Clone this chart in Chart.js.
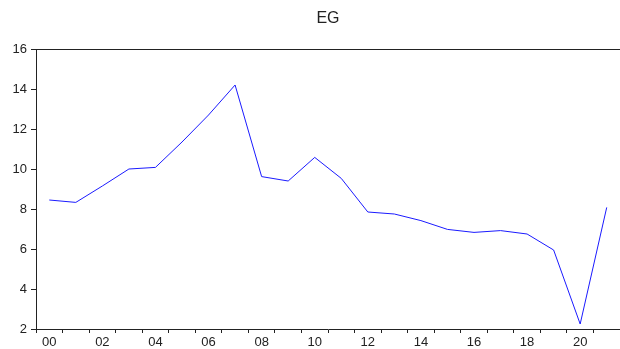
<!DOCTYPE html>
<html>
<head>
<meta charset="utf-8">
<script src="https://cdn.jsdelivr.net/npm/chart.js@4.4.0/dist/chart.umd.min.js"></script>
<style>
  html, body { margin: 0; padding: 0; background: #fff; }
  #wrap { width: 620px; height: 349px; }
</style>
</head>
<body>
<div id="wrap"><canvas id="myChart" width="620" height="349"></canvas></div>
<script>
const years = ['00','01','02','03','04','05','06','07','08','09','10',
               '11','12','13','14','15','16','17','18','19','20','21'];
const egValues = [8.45, 8.33, 9.15, 10.0, 10.08, 11.35, 12.7, 14.2, 9.62, 9.4, 10.58,
                  9.53, 7.85, 7.75, 7.42, 6.98, 6.83, 6.92, 6.75, 5.95, 2.25, 8.08];
const yTicks = [2, 4, 6, 8, 10, 12, 14, 16];

// top line of the plot box
const frame = {
    id: 'frame',
    afterDraw(chart) {
        const a = chart.chartArea;
        const ctx = chart.ctx;
        ctx.save();
        ctx.strokeStyle = '#222';
        ctx.lineWidth = 1;
        ctx.beginPath();
        ctx.moveTo(a.left, Math.round(a.top) + 0.5);
        ctx.lineTo(a.right, Math.round(a.top) + 0.5);
        ctx.stroke();
        ctx.restore();
    }
};

const tickFont = { family: 'Liberation Sans, Arial, sans-serif', size: 13 };

new Chart(document.getElementById('myChart'), {
    type: 'line',
    data: {
        labels: years,
        datasets: [{
            label: 'EG',
            data: egValues,
            borderColor: '#1a1aff',
            borderWidth: 1,
            pointRadius: 0,
            tension: 0,
            fill: false
        }]
    },
    options: {
        responsive: false,
        animation: false,
        layout: { padding: { left: 0, right: 0, top: 0, bottom: 0 } },
        scales: {
            x: {
                offset: true,
                grid: {
                    offset: true,
                    drawOnChartArea: false,
                    color: '#222',
                    tickLength: 4
                },
                border: { display: true, color: '#222', width: 1 },
                ticks: {
                    autoSkip: false,
                    maxRotation: 0,
                    padding: 2,
                    color: '#222',
                    font: tickFont,
                    callback: function (val, i) {
                        return i % 2 === 0 ? years[i] : '';
                    }
                },
                afterFit: s => { s.height = 20; }
            },
            y: {
                min: 2,
                max: 16,
                afterBuildTicks: s => { s.ticks = yTicks.map(v => ({ value: v })); },
                grid: {
                    drawOnChartArea: false,
                    color: '#222',
                    tickLength: 5
                },
                border: { display: true, color: '#222', width: 1 },
                ticks: {
                    padding: 4,
                    color: '#222',
                    font: tickFont
                },
                afterFit: s => { s.width = 36; }
            }
        },
        plugins: {
            legend: { display: false },
            tooltip: { enabled: false },
            title: {
                display: true,
                text: 'EG',
                fullSize: false,
                color: '#222',
                font: { family: 'Liberation Sans, Arial, sans-serif', size: 16, weight: 'normal' },
                padding: { top: 9.4, bottom: 20.4 }
            }
        }
    },
    plugins: [frame]
});
</script>
</body>
</html>
